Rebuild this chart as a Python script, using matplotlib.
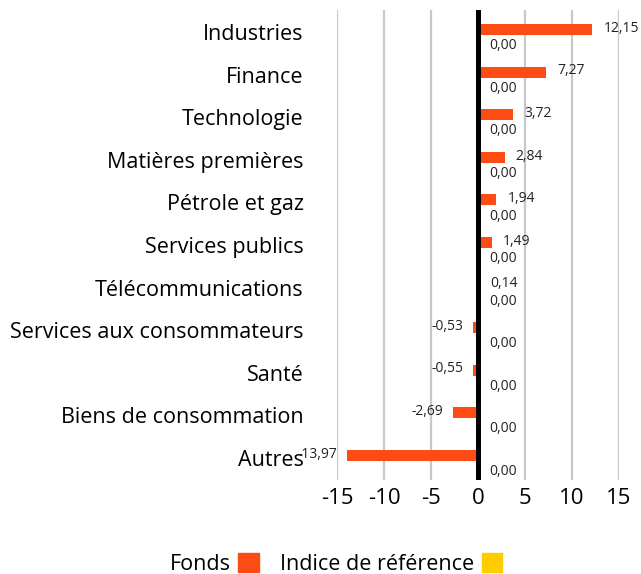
import matplotlib
matplotlib.use("Agg")
import matplotlib.pyplot as plt
from matplotlib.patches import Patch

categories = ["Industries", "Finance", "Technologie", "Matières premières",
              "Pétrole et gaz", "Services publics", "Télécommunications",
              "Services aux consommateurs", "Santé", "Biens de consommation",
              "Autres"]
fonds = [12.15, 7.27, 3.72, 2.84, 1.94, 1.49, 0.14, -0.53, -0.55, -2.69, -13.97]
indice = [0.00] * 11
xticks = [-15, -10, -5, 0, 5, 10, 15]

FUND_COLOR = "#fc4c14"
BENCH_COLOR = "#ffcc00"

plt.rcParams["font.family"] = ["Open Sans", "DejaVu Sans"]

W, H = 641, 574
fig = plt.figure(figsize=(W / 100, H / 100), dpi=100)
ax = fig.add_axes([337 / W, 1 - 480 / H, (619 - 337) / W, 470 / H])

n = len(categories)
pos = list(range(n))
bar_h = 0.26
fund_y = [p - 0.06 for p in pos]
bench_y = [p + 0.2 for p in pos]

ax.barh(fund_y, fonds, height=bar_h, color=FUND_COLOR, zorder=3)
ax.barh(bench_y, indice, height=bar_h, color=BENCH_COLOR, zorder=3)

fmt = lambda v: f"{v:.2f}".replace(".", ",")
for y, v in zip(fund_y, fonds):
    off = 8 if v >= 0 else -7
    ax.annotate(fmt(v), (v, y - 0.03), xytext=(off, 0), textcoords="offset points",
                ha="left" if v >= 0 else "right", va="center", fontsize=10,
                color="#222222", zorder=5)
for y, v in zip(bench_y, indice):
    ax.annotate(fmt(v), (v, y + 0.12), xytext=(8, 0), textcoords="offset points",
                ha="left", va="center", fontsize=10, color="#222222", zorder=5)

ax.set_xlim(-15, 15)
ax.set_ylim(n - 0.5 + 0.02, -0.5 - 0.02)
ax.set_xticks(xticks)
ax.set_xticklabels([str(t) for t in xticks], fontsize=16)
ax.set_yticks(pos)
ax.set_yticklabels(categories, fontsize=15.5)
ax.tick_params(axis="y", length=0, pad=24)
ax.tick_params(axis="x", length=0, pad=6)

ax.grid(axis="x", color="#c8c8c8", linewidth=1.6, zorder=1)
ax.axvline(0, color="black", linewidth=3.6, zorder=4)
for s in ax.spines.values():
    s.set_visible(False)

handles = [Patch(color=FUND_COLOR, label="Fonds"),
           Patch(color=BENCH_COLOR, label="Indice de référence")]
fig.legend(handles=handles, loc="center", bbox_to_anchor=(336 / W, 1 - 564 / H),
           ncol=2, frameon=False, markerfirst=False, fontsize=15.5,
           handlelength=0.95, handleheight=0.95, handletextpad=0.35,
           columnspacing=1.0)

fig.savefig("out.png", dpi=100)
